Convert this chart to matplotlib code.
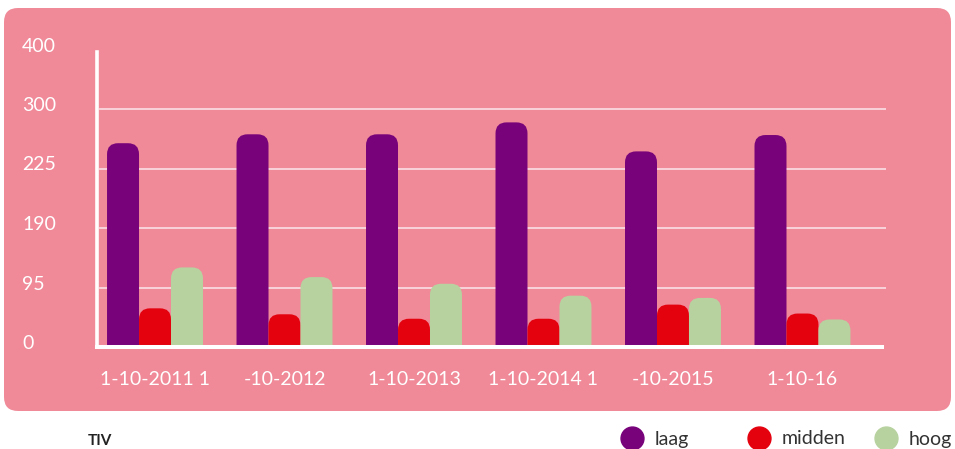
import matplotlib
matplotlib.use("Agg")
import matplotlib.pyplot as plt
import matplotlib.transforms as mtransforms
from matplotlib.patches import FancyBboxPatch
from matplotlib.lines import Line2D
import numpy as np

# data (in axis units, tick spacing = 80)
dates = ["1-10-2011 1", "-10-2012", "1-10-2013", "1-10-2014 1", "-10-2015", "1-10-16"]
laag = [274, 286, 286, 302, 263, 285]
midden = [52, 44, 38, 38, 57, 45]
hoog = [107, 94, 85, 69, 66, 37]
ytick_labels = ["0", "95", "190", "225", "300", "400"]
series_names = ["laag", "midden", "hoog"]

colors = ["#77027a", "#e4020f", "#b7d29f"]
pink = "#f08a99"
grid_col = "#fbe1e6"

plt.rcParams['font.family'] = ['Lato', 'DejaVu Sans']

W, H = 955, 449
fig = plt.figure(figsize=(W / 100, H / 100), dpi=100)
fig.patch.set_facecolor("white")

# pink rounded panel behind the chart
bg = FancyBboxPatch((4 / W, 38 / H), 947 / W, 403 / H,
                    boxstyle="round,pad=0,rounding_size=%f" % (14 / W),
                    mutation_aspect=W / H, transform=fig.transFigure,
                    fc=pink, ec="none", zorder=-10)
fig.add_artist(bg)

ax = fig.add_axes([97 / W, 102 / H, 789 / W, 297.5 / H])
ax.set_facecolor("none")

x = np.arange(len(dates))
w = 0.247
xmin, xmax = -0.448, 5.645
ax.set_xlim(xmin, xmax)
ax.set_ylim(0, 400)

all_bars = []
for i, (vals, name) in enumerate(zip([laag, midden, hoog], series_names)):
    bars = ax.bar(x + (i - 1) * w, vals, w, color=colors[i], label=name, zorder=2)
    all_bars.append(bars)

# rounded tops for the bars
bbox = ax.get_window_extent()
ux = (xmax - xmin) / bbox.width
uy = 400 / bbox.height
r_px = 11
for bars in all_bars:
    for rect in bars:
        bx, bw, bh = rect.get_x(), rect.get_width(), rect.get_height()
        ry = r_px * uy
        p = FancyBboxPatch((bx, -ry), bw, bh + ry,
                           boxstyle="round,pad=0,rounding_size=%f" % (r_px * ux),
                           mutation_aspect=uy / ux, fc=rect.get_facecolor(),
                           ec="none", zorder=2)
        ax.add_patch(p)
        rect.remove()

yticks = np.linspace(0, 400, len(ytick_labels))
for yv in yticks[1:-1]:
    ax.axhline(yv, xmin=3 / 789, xmax=1, color=grid_col, lw=1.3, alpha=0.9, zorder=1)

for s in ["top", "right"]:
    ax.spines[s].set_visible(False)
ax.spines["left"].set_color("white")
ax.spines["left"].set_linewidth(2.6)
ax.spines["left"].set_bounds(0, 396)
ax.spines["bottom"].set_color("white")
ax.spines["bottom"].set_linewidth(2.9)
ax.spines["bottom"].set_bounds(xmin, 5.614)
ax.spines["bottom"].set_zorder(3)

ax.set_yticks(yticks)
ax.set_yticklabels(ytick_labels, ha="left")
ax.tick_params(axis="y", length=0, pad=54, labelsize=14, labelcolor="white")
shift = mtransforms.ScaledTranslation(0, 0.05, fig.dpi_scale_trans)
for lab in ax.get_yticklabels():
    lab.set_transform(lab.get_transform() + shift)

ax.set_xticks(x)
ax.set_xticklabels(dates)
ax.tick_params(axis="x", length=0, pad=17, labelsize=14, labelcolor="white")

# legend below the panel
for i, name in enumerate(series_names):
    cx = 632 + i * 127
    fig.add_artist(Line2D([cx / W], [11 / H], marker="o", markersize=16.5,
                          color=colors[i], linestyle="none",
                          transform=fig.transFigure))
    fig.text((cx + 23) / W, 10 / H, name, fontsize=14, color="#333333",
             va="center", ha="left")

fig.text(88 / W, 1 / H, "TIV", fontsize=11, fontweight="bold", color="#222222",
         va="bottom", ha="left")

fig.savefig("out.png", dpi=100)
